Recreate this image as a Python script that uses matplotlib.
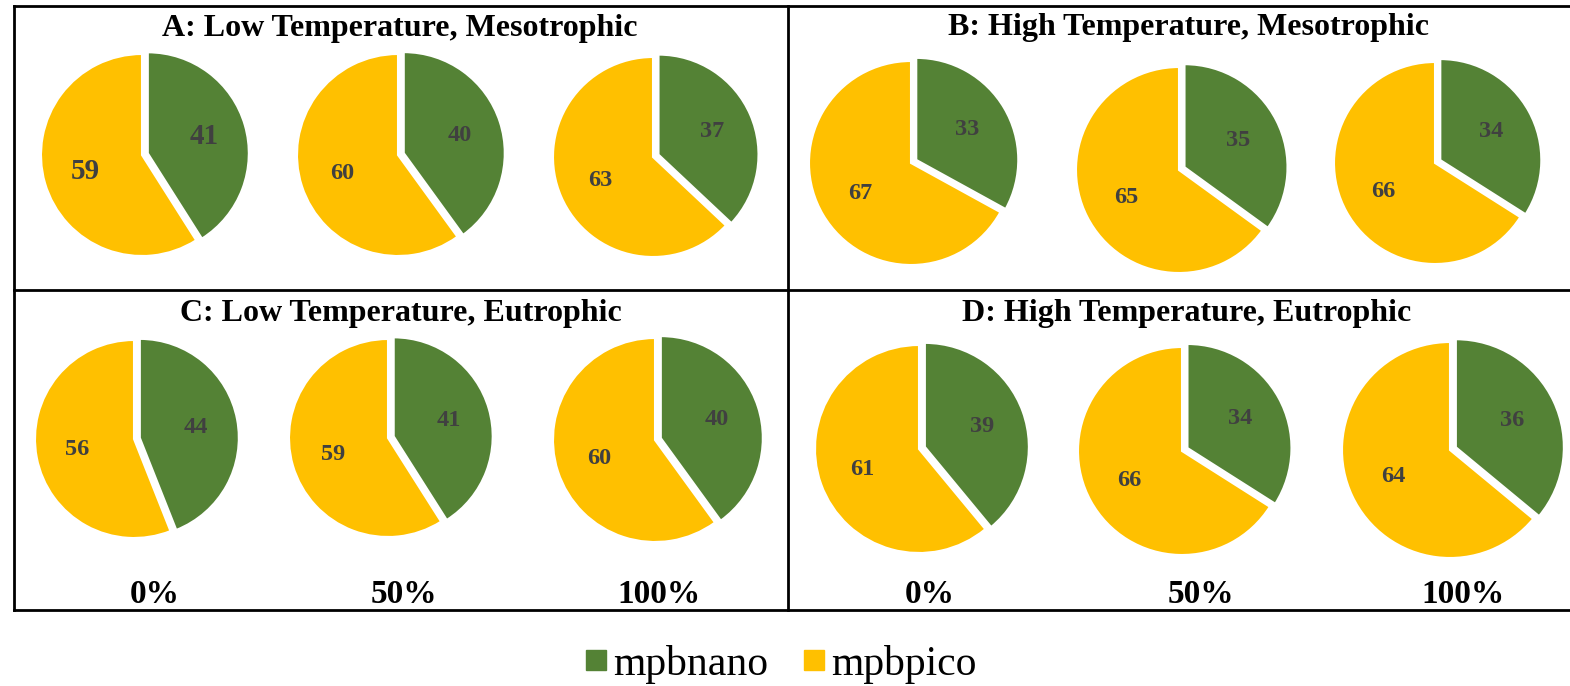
import matplotlib.pyplot as plt
from matplotlib.lines import Line2D

W, H = 1570, 686

# data
panel_titles = [
    "A: Low Temperature, Mesotrophic",
    "B: High Temperature, Mesotrophic",
    "C: Low Temperature, Eutrophic",
    "D: High Temperature, Eutrophic",
]
dose_labels = ["0%", "50%", "100%"]
series_names = ["mpbnano", "mpbpico"]
mpbnano = [
    [41, 40, 37],
    [33, 35, 34],
    [44, 41, 40],
    [39, 34, 36],
]
mpbpico = [
    [59, 60, 63],
    [67, 65, 66],
    [56, 59, 60],
    [61, 66, 64],
]

colors = ["#548235", "#FFC000"]
serif = "Liberation Serif"

# layout (pixels): pie centre x, centre y, radius
pie_pos = [
    [(142, 155, 101), (398, 155, 101), (653, 157, 100)],
    [(911, 163, 102), (1179, 170, 103), (1435, 163, 101)],
    [(134, 439, 99), (388, 438, 99), (655, 440, 102)],
    [(919, 449, 104), (1182, 451, 104), (1450, 450, 108)],
]
title_pos = [(400, 36), (1188, 35), (401, 321), (1187, 321)]
dose_pos = [[155, 404, 659], [930, 1201, 1463]]


def fx(x):
    return x / W


def fy(y):
    return 1 - y / H


fig = plt.figure(figsize=(W / 100, H / 100), dpi=100)

for p in range(4):
    for k in range(3):
        cx, cy, r = pie_pos[p][k]
        ax = fig.add_axes([fx(cx - r), fy(cy + r), 2 * r / W, 2 * r / H])
        vals = [mpbnano[p][k], mpbpico[p][k]]
        size = 21 if (p == 0 and k == 0) else 17.5
        wedges, texts, autotexts = ax.pie(
            vals,
            colors=colors,
            startangle=90,
            counterclock=False,
            explode=[0.06, 0],
            autopct=lambda v: f"{v:.0f}",
            pctdistance=0.58,
            wedgeprops=dict(edgecolor="white", linewidth=1.5, clip_on=False),
            textprops=dict(family=serif, weight="bold", color="#404040", fontsize=size),
        )
        ax.set_xlim(-1, 1)
        ax.set_ylim(-1, 1)
        ax.set_aspect("auto")
        ax.axis("off")

for t, (x, y) in zip(panel_titles, title_pos):
    fig.text(fx(x), fy(y), t, ha="center", va="baseline",
             family=serif, weight="bold", fontsize=23)

for row in dose_pos:
    for lab, x in zip(dose_labels, row):
        fig.text(fx(x), fy(603), lab, ha="center", va="baseline",
                 family=serif, weight="bold", fontsize=24)

# panel borders
lw = 2
for xs, ys in [
    ((14, 1570), (6, 6)),
    ((14, 1570), (290, 290)),
    ((14, 1570), (610, 610)),
    ((14, 14), (6, 610)),
    ((788, 788), (6, 610)),
]:
    fig.add_artist(Line2D([fx(xs[0]), fx(xs[1])], [fy(ys[0]), fy(ys[1])],
                          color="black", linewidth=lw, transform=fig.transFigure))

handles = [
    Line2D([], [], marker="s", linestyle="", color=c, markersize=14)
    for c in colors
]
fig.legend(handles, series_names, loc="center", bbox_to_anchor=(fx(780), fy(664)),
           ncol=2, frameon=False, prop=dict(family=serif, size=30),
           handletextpad=0.1, columnspacing=0.8, handlelength=0.6)

fig.savefig("out.png", dpi=100)
